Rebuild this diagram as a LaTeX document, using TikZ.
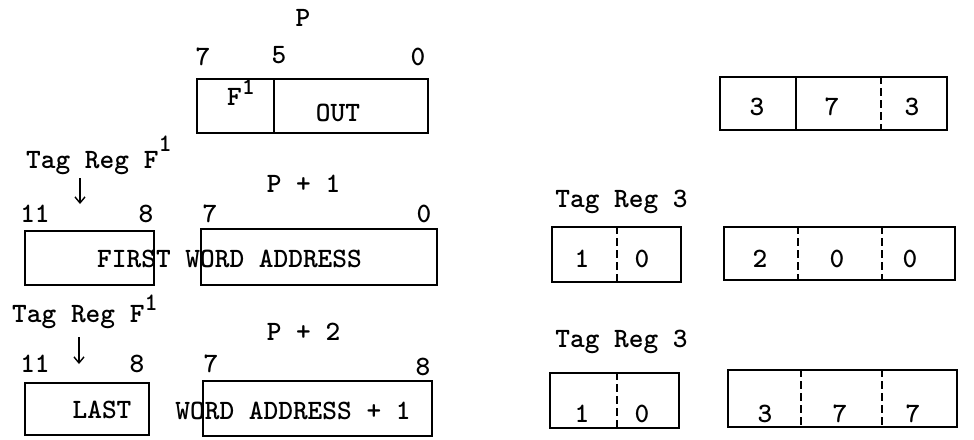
\documentclass[tikz,border=0pt]{standalone}
\usepackage{tikz}
\usetikzlibrary{arrows.meta,positioning}
\tikzset{
  fieldbox/.style={draw, line width=1.8pt, inner sep=0pt, minimum height=54pt},
  solidsep/.style={line width=1.8pt},
  dashsep/.style={line width=1.8pt, dash pattern=on 8pt off 4pt},
  txt/.style={font=\fontsize{28}{30}\selectfont\ttfamily\bfseries, inner sep=0pt, anchor=base},
  tagarrow/.style={-{Straight Barb[length=6pt,width=10pt]}, line width=1.4pt},
}
\newcommand{\supone}[1]{\raisebox{#1}{\fontsize{25}{27}\selectfont\ttfamily\bfseries 1}}

\begin{document}
\begin{tikzpicture}[x=1pt,y=-1pt]
  \useasboundingbox (0,0) rectangle (974,439);

  % word P
  \node[txt] (pname) at (303,27) {P};
  \node[txt] (pb7) at (203,65) {7};
  \node[txt] (pb5) at (279,63) {5};
  \node[txt] (pb0) at (418,65) {0};
  \node[fieldbox, minimum width=77pt] (pf) at (235.5,106) {};
  \node[fieldbox, minimum width=154pt] (pout) at (351,106) {};
  \node[txt, anchor=base west] (pftxt) at (227,105) {F\supone{11pt}};
  \node[txt] (pouttxt) at (338,121) {OUT};

  % word P + 1
  \node[txt, anchor=base west] (tagA) at (26,168) {Tag Reg F\supone{17pt}};
  \coordinate (tagAs) at (80,178);
  \coordinate (tagAe) at (80,204);
  \draw[tagarrow] (tagAs) -- (tagAe);
  \node[txt] (p1name) at (303.5,192) {P + 1};
  \node[txt] (ab11) at (35,222) {11};
  \node[txt] (ab8) at (146,222) {8};
  \node[txt] (ab7) at (210,222) {7};
  \node[txt] (ab0) at (424,222) {0};
  \node[fieldbox, minimum width=129pt] (tagAbox) at (89.5,258) {};
  \node[fieldbox, minimum width=236pt, minimum height=56pt] (p1box) at (319,257) {};
  \node[txt] (p1txt) at (229.5,267) {FIRST WORD ADDRESS};

  % word P + 2
  \node[txt, anchor=base west] (tagB) at (12,322) {Tag Reg F\supone{12pt}};
  \coordinate (tagBs) at (79,337);
  \coordinate (tagBe) at (79,364);
  \draw[tagarrow] (tagBs) -- (tagBe);
  \node[txt] (p2name) at (303.5,340) {P + 2};
  \node[txt] (bb11) at (35,372) {11};
  \node[txt] (bb8) at (137,372) {8};
  \node[txt] (bb7) at (211,372) {7};
  \node[txt] (bb8b) at (423,375) {8};
  \node[fieldbox, minimum width=124pt, minimum height=52pt] (tagBbox) at (87,409) {};
  \node[fieldbox, minimum width=229pt, minimum height=55pt] (p2box) at (317.5,408.5) {};
  \node[txt] (lasttxt) at (102,418) {LAST};
  \node[txt] (p2txt) at (293,419) {WORD ADDRESS + 1};

  % octal contents, right side
  \node[fieldbox, minimum width=227pt, minimum height=53pt] (w0) at (833.5,103.5) {};
  \draw[solidsep] ([xshift=77pt]w0.north west) -- ([xshift=77pt]w0.south west);
  \draw[dashsep] ([xshift=162pt]w0.north west) -- ([xshift=162pt]w0.south west);
  \node[txt] (w0a) at (757,115) {3};
  \node[txt] (w0b) at (832,115) {7};
  \node[txt] (w0c) at (912,115) {3};

  \node[txt] (tag3A) at (621.5,207) {Tag Reg 3};
  \node[fieldbox, minimum width=129pt, minimum height=55pt] (t1) at (616.5,254.5) {};
  \draw[dashsep] ([xshift=66pt]t1.north west) -- ([xshift=66pt]t1.south west);
  \node[txt] (t1a) at (582,267) {1};
  \node[txt] (t1b) at (642,267) {0};
  \node[fieldbox, minimum width=231pt, minimum height=53pt] (w1) at (839.5,253.5) {};
  \draw[dashsep] ([xshift=75pt]w1.north west) -- ([xshift=75pt]w1.south west);
  \draw[dashsep] ([xshift=159pt]w1.north west) -- ([xshift=159pt]w1.south west);
  \node[txt] (w1a) at (760,267) {2};
  \node[txt] (w1b) at (837,267) {0};
  \node[txt] (w1c) at (910,267) {0};

  \node[txt] (tag3B) at (621.5,347) {Tag Reg 3};
  \node[fieldbox, minimum width=129pt, minimum height=55pt] (t2) at (614.5,400.5) {};
  \draw[dashsep] ([xshift=68pt]t2.north west) -- ([xshift=68pt]t2.south west);
  \node[txt] (t2a) at (582,422) {1};
  \node[txt] (t2b) at (642,422) {0};
  \node[fieldbox, minimum width=229pt, minimum height=57pt] (w2) at (842.5,398.5) {};
  \draw[dashsep] ([xshift=74pt]w2.north west) -- ([xshift=74pt]w2.south west);
  \draw[dashsep] ([xshift=155pt]w2.north west) -- ([xshift=155pt]w2.south west);
  \node[txt] (w2a) at (765,422) {3};
  \node[txt] (w2b) at (840,422) {7};
  \node[txt] (w2c) at (913,422) {7};
\end{tikzpicture}
\end{document}
